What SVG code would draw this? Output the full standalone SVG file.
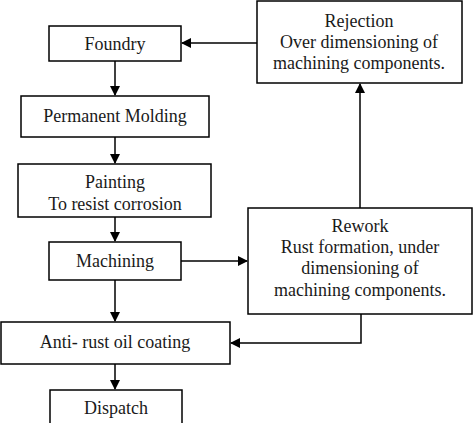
<svg xmlns="http://www.w3.org/2000/svg" width="474" height="423" viewBox="0 0 474 423">
<style>
rect{fill:#fff;stroke:#000;stroke-width:1.5}
text{font-family:"Liberation Serif","Times New Roman",serif;font-size:18px;fill:#1a1a1a;text-anchor:middle}
.c{fill:none;stroke:#000;stroke-width:1.5}
</style>
<defs>
<marker id="ah" markerWidth="10" markerHeight="10" refX="9" refY="5" orient="auto" markerUnits="userSpaceOnUse">
<path d="M0,0 L10,5 L0,10 Z" fill="#000"/>
</marker>
</defs>
<rect x="0" y="0" width="474" height="423" style="fill:#fff;stroke:none"/>
<g id="connectors">
<path class="c" d="M115,61 V95" marker-end="url(#ah)"/>
<path class="c" d="M115,137 V163" marker-end="url(#ah)"/>
<path class="c" d="M115,217 V241" marker-end="url(#ah)"/>
<path class="c" d="M115,280 V321" marker-end="url(#ah)"/>
<path class="c" d="M115,364 V389" marker-end="url(#ah)"/>
<path class="c" d="M181,261 H247" marker-end="url(#ah)"/>
<path class="c" d="M360,208 V84" marker-end="url(#ah)"/>
<path class="c" d="M257,43 H182" marker-end="url(#ah)"/>
<path class="c" d="M361,314 V343 H231" marker-end="url(#ah)"/>
</g>
<g id="foundry"><rect x="49" y="26" width="132" height="35"/><text x="115" y="50">Foundry</text></g>
<g id="molding"><rect x="21" y="96" width="188" height="41"/><text x="115" y="122">Permanent Molding</text></g>
<g id="painting"><rect x="18" y="164" width="193" height="53"/><text x="115" y="188">Painting</text><text x="115" y="210">To resist corrosion</text></g>
<g id="machining"><rect x="49" y="242" width="132" height="38"/><text x="115" y="267">Machining</text></g>
<g id="antirust"><rect x="1" y="322" width="229" height="42"/><text x="115" y="348">Anti- rust oil coating</text></g>
<g id="dispatch"><rect x="50" y="390" width="132" height="40"/><text x="116" y="414">Dispatch</text></g>
<g id="rejection"><rect x="257" y="1" width="205" height="82"/><text x="359" y="27">Rejection</text><text x="359" y="48">Over dimensioning of</text><text x="359" y="69">machining components.</text></g>
<g id="rework"><rect x="248" y="208" width="224" height="106"/><text x="360" y="232">Rework</text><text x="360" y="253">Rust formation, under</text><text x="360" y="274">dimensioning of</text><text x="360" y="296">machining components.</text></g>
</svg>
